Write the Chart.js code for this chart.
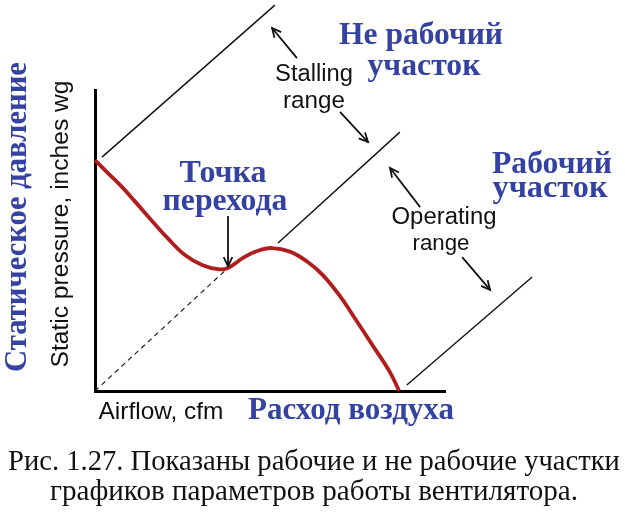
<!DOCTYPE html>
<html lang="ru">

<head>
    <meta charset="UTF-8" />
    <title>Fan curve</title>
    <style>
        body {
            margin: 0;
            background: #fff;
            overflow: hidden;
        }

        canvas {
            display: block;
        }
    </style>
</head>

<body>
    <canvas id="chart" width="625" height="512"></canvas>

    <script src="https://cdn.jsdelivr.net/npm/chart.js"></script>

    <script>
        // Fan curve (airflow vs static pressure), arbitrary units 0..100
        const fanAirflow = [0, 3.7, 7.7, 11.4, 16.3, 20.9, 25.7, 30.6, 35.1, 38.0, 42.3, 46.3, 50.6, 55.7, 60.6, 65.1, 70.0, 74.9, 79.4, 84.3, 86.9];
        const fanPressure = [76.7, 72.4, 67.8, 63.0, 56.5, 50.6, 45.2, 41.9, 40.5, 40.9, 44.2, 46.5, 47.5, 46.3, 43.0, 38.5, 31.5, 23.0, 15.0, 6.2, 0];

        // dashed line from origin to the transition point
        const surgeAirflow = [0, 38.0];
        const surgePressure = [0, 40.9];

        // boundary lines of the ranges
        const boundaryAirflow = [[2.0, 51.4], [52.3, 87.1], [89.1, 124.9]];
        const boundaryPressure = [[77.7, 128.2], [49.2, 86.0], [2.0, 37.9]];

        // pointer arrows: [x1, y1, x2 (head), y2 (head)]
        const arrowSegments = [
            [57.7, 110.6, 50.6, 120.6],
            [70.0, 92.7, 78.0, 82.7],
            [38.0, 58.1, 38.0, 41.5],
            [92.9, 61.1, 84.3, 74.1],
            [104.9, 44.5, 112.9, 33.6]
        ];

        const BLUE = '#3442a2';

        const toPoints = (xs, ys) => xs.map((x, i) => ({ x, y: ys[i] }));

        const datasets = [];
        datasets.push({
            data: toPoints(fanAirflow, fanPressure),
            borderColor: '#b01d1d',
            borderWidth: 3.8,
            tension: 0.4,
            pointRadius: 0,
            clip: false
        });
        datasets.push({
            data: toPoints(surgeAirflow, surgePressure),
            borderColor: '#222',
            borderWidth: 1.2,
            borderDash: [5, 4],
            pointRadius: 0,
            clip: false
        });
        boundaryAirflow.forEach((xs, i) => {
            datasets.push({
                data: toPoints(xs, boundaryPressure[i]),
                borderColor: '#111',
                borderWidth: 1.4,
                pointRadius: 0,
                clip: false
            });
        });
        arrowSegments.forEach(a => {
            datasets.push({
                data: [{ x: a[0], y: a[1] }, { x: a[2], y: a[3] }],
                borderColor: '#111',
                borderWidth: 1.8,
                pointRadius: 0,
                clip: false
            });
        });

        // draw text scaled to a given width
        function fitText(ctx, text, cx, cy, width, font, color, rotate) {
            ctx.save();
            ctx.font = font.replace('SIZE', '20px');
            const size = 20 * width / ctx.measureText(text).width;
            ctx.font = font.replace('SIZE', size.toFixed(2) + 'px');
            ctx.fillStyle = color;
            ctx.textAlign = 'center';
            ctx.textBaseline = 'middle';
            ctx.translate(cx, cy);
            if (rotate) ctx.rotate(-Math.PI / 2);
            ctx.fillText(text, 0, 0);
            ctx.restore();
        }

        const SERIF_BOLD = 'bold SIZE "Liberation Serif", serif';
        const SERIF = 'SIZE "Liberation Serif", serif';
        const SANS = 'SIZE "Liberation Sans", Arial, sans-serif';

        const annotations = {
            id: 'annotations',
            afterDatasetsDraw(chart) {
                const ctx = chart.ctx;
                const xs = chart.scales.x, ys = chart.scales.y;

                // arrow heads
                ctx.save();
                ctx.strokeStyle = '#111';
                ctx.lineWidth = 1.8;
                arrowSegments.forEach(a => {
                    const x1 = xs.getPixelForValue(a[0]), y1 = ys.getPixelForValue(a[1]);
                    const x2 = xs.getPixelForValue(a[2]), y2 = ys.getPixelForValue(a[3]);
                    const ang = Math.atan2(y2 - y1, x2 - x1);
                    const len = 10;
                    ctx.beginPath();
                    ctx.moveTo(x2 - len * Math.cos(ang - 0.45), y2 - len * Math.sin(ang - 0.45));
                    ctx.lineTo(x2, y2);
                    ctx.lineTo(x2 - len * Math.cos(ang + 0.45), y2 - len * Math.sin(ang + 0.45));
                    ctx.stroke();
                });
                ctx.restore();

                fitText(ctx, 'Не рабочий', 421, 36, 164, SERIF_BOLD, BLUE);
                fitText(ctx, 'участок', 424, 67, 113, SERIF_BOLD, BLUE);
                fitText(ctx, 'Рабочий', 552, 165, 120, SERIF_BOLD, BLUE);
                fitText(ctx, 'участок', 550, 189, 115, SERIF_BOLD, BLUE);
                fitText(ctx, 'Точка', 223, 174, 87, SERIF_BOLD, BLUE);
                fitText(ctx, 'перехода', 225, 202, 125, SERIF_BOLD, BLUE);

                fitText(ctx, 'Stalling', 314, 74, 78, SANS, '#111');
                fitText(ctx, 'range', 314, 101, 62, SANS, '#111');
                fitText(ctx, 'Operating', 444, 217, 105, SANS, '#111');
                fitText(ctx, 'range', 441, 244, 57, SANS, '#111');

                fitText(ctx, 'Static pressure, inches wg', 61, 224, 287, SANS, '#111', true);
                fitText(ctx, 'Статическое давление', 18, 217, 310, SERIF_BOLD, BLUE, true);
                fitText(ctx, 'Airflow, cfm', 161, 412, 125, SANS, '#111');
                fitText(ctx, 'Расход воздуха', 351, 411, 206, SERIF_BOLD, BLUE);

                fitText(ctx, 'Рис. 1.27. Показаны рабочие и не рабочие участки', 314, 462, 612, SERIF, '#111');
                fitText(ctx, 'графиков параметров работы вентилятора.', 314, 492, 528, SERIF, '#111');
            }
        };

        const chart = new Chart(document.getElementById('chart'), {
            type: 'line',
            data: { datasets },
            options: {
                responsive: false,
                animation: false,
                layout: {
                    padding: { left: 87, top: 90, right: 180, bottom: 113 }
                },
                plugins: {
                    legend: { display: false },
                    tooltip: { enabled: false }
                },
                scales: {
                    x: {
                        type: 'linear',
                        min: 0,
                        max: 100,
                        ticks: { display: false },
                        grid: { display: false },
                        border: { display: true, color: '#000', width: 3 }
                    },
                    y: {
                        type: 'linear',
                        min: 0,
                        max: 100,
                        ticks: { display: false },
                        grid: { display: false },
                        border: { display: true, color: '#000', width: 3 }
                    }
                }
            },
            plugins: [annotations]
        });
    </script>
</body>

</html>
